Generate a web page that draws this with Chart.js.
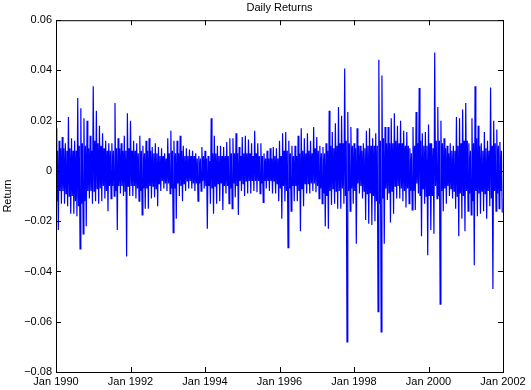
<!DOCTYPE html>
<html lang="en">
<head>
    <meta charset="UTF-8">
    <title>Daily Returns</title>
    <script src="https://cdn.jsdelivr.net/npm/chart.js"></script>
    <style>
        body {
            margin: 0;
            background: #fff;
        }
        .chart-box {
            width: 531px;
            height: 390px;
        }
    </style>
</head>
<body>
    <div class="chart-box">
        <canvas id="returnsChart"></canvas>
    </div>

    <script>
        // daily returns Jan 1990 .. Dec 2001, one row per year
        const startYear = 1990;
        // biggest up / down day of each month
        const monthHigh = [
            0.017, 0.012, 0.0135, 0.011, 0.0215, 0.013, 0.012, 0.029, 0.025, 0.021, 0.020, 0.014,
            0.0337, 0.024, 0.018, 0.015, 0.012, 0.011, 0.011, 0.027, 0.013, 0.011, 0.014, 0.023,
            0.020, 0.012, 0.011, 0.014, 0.010, 0.012, 0.013, 0.0095, 0.011, 0.0095, 0.009, 0.007,
            0.013, 0.016, 0.012, 0.012, 0.014, 0.010, 0.009, 0.0085, 0.008, 0.007, 0.006, 0.0095,
            0.008, 0.006, 0.021, 0.014, 0.010, 0.010, 0.0095, 0.0115, 0.013, 0.013, 0.015, 0.0095,
            0.0135, 0.014, 0.0125, 0.011, 0.016, 0.011, 0.011, 0.007, 0.008, 0.009, 0.0095, 0.009,
            0.012, 0.015, 0.0155, 0.012, 0.010, 0.010, 0.014, 0.017, 0.013, 0.015, 0.012, 0.0175,
            0.0135, 0.010, 0.0095, 0.011, 0.024, 0.0155, 0.019, 0.0255, 0.022, 0.0408, 0.0235, 0.0175,
            0.011, 0.017, 0.010, 0.011, 0.016, 0.017, 0.013, 0.015, 0.0443, 0.038, 0.0175, 0.0175,
            0.021, 0.023, 0.018, 0.020, 0.016, 0.0155, 0.009, 0.0175, 0.0235, 0.033, 0.015, 0.0155,
            0.0185, 0.011, 0.0471, 0.0255, 0.020, 0.013, 0.010, 0.011, 0.010, 0.0215, 0.021, 0.0245,
            0.027, 0.011, 0.021, 0.0337, 0.018, 0.011, 0.0155, 0.012, 0.0332, 0.020, 0.0165, 0.0115
        ];
        const monthLow = [
            -0.0235, -0.013, -0.013, -0.014, -0.017, -0.017, -0.018, -0.031, -0.025, -0.022, -0.011, -0.013,
            -0.012, -0.013, -0.012, -0.011, -0.016, -0.011, -0.010, -0.0235, -0.009, -0.010, -0.034, -0.010,
            -0.010, -0.011, -0.012, -0.0175, -0.015, -0.015, -0.011, -0.0105, -0.014, -0.008, -0.007, -0.008,
            -0.009, -0.0245, -0.019, -0.010, -0.012, -0.008, -0.007, -0.007, -0.008, -0.012, -0.008, -0.007,
            -0.023, -0.013, -0.017, -0.013, -0.012, -0.0155, -0.009, -0.013, -0.015, -0.0105, -0.0175, -0.008,
            -0.010, -0.009, -0.009, -0.008, -0.0085, -0.009, -0.0125, -0.007, -0.008, -0.009, -0.009, -0.012,
            -0.019, -0.012, -0.0305, -0.016, -0.012, -0.012, -0.024, -0.014, -0.009, -0.009, -0.008, -0.0085,
            -0.011, -0.013, -0.022, -0.023, -0.0135, -0.013, -0.015, -0.015, -0.013, -0.068, -0.016, -0.013,
            -0.029, -0.009, -0.011, -0.0195, -0.021, -0.0215, -0.020, -0.056, -0.064, -0.029, -0.0115, -0.0205,
            -0.017, -0.011, -0.011, -0.012, -0.0145, -0.013, -0.0155, -0.0155, -0.009, -0.026, -0.013, -0.0335,
            -0.0235, -0.025, -0.011, -0.053, -0.016, -0.013, -0.010, -0.011, -0.015, -0.026, -0.019, -0.024,
            -0.016, -0.0175, -0.0375, -0.018, -0.017, -0.016, -0.019, -0.014, -0.047, -0.016, -0.015, -0.0165
        ];
        // edges of the dense part of the band in each month
        const monthCoreHigh = [
            0.008, 0.009, 0.009, 0.008, 0.009, 0.008, 0.008, 0.010, 0.011, 0.010, 0.009, 0.008,
            0.012, 0.011, 0.010, 0.009, 0.008, 0.008, 0.008, 0.009, 0.009, 0.008, 0.008, 0.009,
            0.008, 0.008, 0.007, 0.008, 0.007, 0.008, 0.008, 0.007, 0.007, 0.006, 0.006, 0.005,
            0.007, 0.008, 0.007, 0.007, 0.008, 0.006, 0.006, 0.006, 0.006, 0.005, 0.005, 0.006,
            0.005, 0.004, 0.007, 0.007, 0.006, 0.006, 0.006, 0.006, 0.007, 0.007, 0.007, 0.006,
            0.007, 0.007, 0.007, 0.006, 0.007, 0.006, 0.006, 0.005, 0.005, 0.005, 0.006, 0.005,
            0.006, 0.008, 0.008, 0.007, 0.006, 0.006, 0.007, 0.008, 0.007, 0.008, 0.007, 0.009,
            0.008, 0.007, 0.007, 0.008, 0.010, 0.009, 0.010, 0.011, 0.011, 0.012, 0.011, 0.010,
            0.009, 0.010, 0.008, 0.009, 0.010, 0.010, 0.010, 0.010, 0.012, 0.013, 0.011, 0.011,
            0.011, 0.012, 0.011, 0.011, 0.010, 0.010, 0.007, 0.010, 0.011, 0.012, 0.010, 0.010,
            0.011, 0.009, 0.012, 0.012, 0.011, 0.009, 0.007, 0.008, 0.008, 0.010, 0.011, 0.012,
            0.012, 0.008, 0.011, 0.013, 0.010, 0.008, 0.009, 0.008, 0.010, 0.011, 0.010, 0.008
        ];
        const monthCoreLow = [
            -0.012, -0.008, -0.008, -0.009, -0.010, -0.010, -0.012, -0.014, -0.013, -0.012, -0.008, -0.008,
            -0.008, -0.007, -0.007, -0.006, -0.008, -0.006, -0.006, -0.008, -0.006, -0.006, -0.008, -0.006,
            -0.006, -0.006, -0.007, -0.008, -0.007, -0.007, -0.006, -0.006, -0.007, -0.005, -0.004, -0.005,
            -0.005, -0.007, -0.007, -0.005, -0.006, -0.005, -0.004, -0.004, -0.005, -0.005, -0.005, -0.004,
            -0.006, -0.006, -0.007, -0.006, -0.005, -0.005, -0.006, -0.006, -0.007, -0.005, -0.006, -0.004,
            -0.005, -0.004, -0.004, -0.004, -0.004, -0.004, -0.005, -0.004, -0.004, -0.004, -0.004, -0.005,
            -0.007, -0.006, -0.008, -0.007, -0.006, -0.006, -0.008, -0.007, -0.005, -0.005, -0.005, -0.005,
            -0.006, -0.007, -0.009, -0.010, -0.008, -0.007, -0.008, -0.008, -0.007, -0.010, -0.008, -0.007,
            -0.008, -0.005, -0.006, -0.008, -0.009, -0.009, -0.010, -0.012, -0.013, -0.011, -0.007, -0.009,
            -0.008, -0.006, -0.006, -0.007, -0.008, -0.007, -0.008, -0.008, -0.005, -0.010, -0.007, -0.010,
            -0.010, -0.010, -0.006, -0.010, -0.008, -0.007, -0.006, -0.007, -0.008, -0.010, -0.009, -0.010,
            -0.008, -0.009, -0.012, -0.008, -0.009, -0.008, -0.009, -0.008, -0.011, -0.008, -0.009, -0.008
        ];
        const xTicks = [1990, 1992, 1994, 1996, 1998, 2000, 2002];
        const yTicks = [-0.08, -0.06, -0.04, -0.02, 0, 0.02, 0.04, 0.06];

        // per month: high, core low, core high, low, a quarter of a month apart
        const points = [];
        monthHigh.forEach((hi, m) => {
            points.push({ x: startYear + m / 12, y: hi });
            points.push({ x: startYear + (m + 0.25) / 12, y: monthCoreLow[m] });
            points.push({ x: startYear + (m + 0.5) / 12, y: monthCoreHigh[m] });
            points.push({ x: startYear + (m + 0.75) / 12, y: monthLow[m] });
        });

        const fontBase = { family: "'Liberation Sans', Arial, sans-serif", size: 11 };

        // matlab style box with ticks pointing inwards on all four sides
        const boxTicks = {
            id: 'boxTicks',
            afterDraw(chart) {
                const { ctx, chartArea: a, scales } = chart;
                const len = 5;
                ctx.save();
                ctx.strokeStyle = '#000';
                ctx.lineWidth = 1;
                ctx.strokeRect(a.left + 0.5, a.top + 0.5, a.right - a.left, a.bottom - a.top);
                ctx.beginPath();
                xTicks.forEach(v => {
                    const px = Math.round(scales.x.getPixelForValue(v)) + 0.5;
                    ctx.moveTo(px, a.bottom); ctx.lineTo(px, a.bottom - len);
                    ctx.moveTo(px, a.top); ctx.lineTo(px, a.top + len);
                });
                yTicks.forEach(v => {
                    const py = Math.round(scales.y.getPixelForValue(v)) + 0.5;
                    ctx.moveTo(a.left, py); ctx.lineTo(a.left + len, py);
                    ctx.moveTo(a.right, py); ctx.lineTo(a.right - len, py);
                });
                ctx.stroke();
                ctx.restore();
            }
        };

        new Chart(document.getElementById('returnsChart'), {
            type: 'line',
            data: {
                datasets: [{
                    label: 'Return',
                    data: points,
                    borderColor: '#0000ff',
                    borderWidth: 1.2,
                    pointRadius: 0,
                    tension: 0
                }]
            },
            options: {
                responsive: true,
                maintainAspectRatio: false,
                animation: false,
                layout: { padding: { left: 0, right: 28, top: 0, bottom: 0 } },
                plugins: {
                    legend: { display: false },
                    tooltip: { enabled: false },
                    title: {
                        display: true,
                        fullSize: false,
                        text: 'Daily Returns',
                        color: '#000',
                        font: { ...fontBase, weight: 'normal' },
                        padding: { top: 1, bottom: 6 }
                    }
                },
                scales: {
                    x: {
                        type: 'linear',
                        min: 1990,
                        max: 2002,
                        afterBuildTicks: s => { s.ticks = xTicks.map(v => ({ value: v })); },
                        afterFit: s => { s.height = 18; },
                        grid: { display: false, drawTicks: false },
                        border: { display: false },
                        ticks: {
                            color: '#000',
                            font: fontBase,
                            padding: 3,
                            maxRotation: 0,
                            autoSkip: false,
                            callback: v => 'Jan ' + v
                        }
                    },
                    y: {
                        min: -0.08,
                        max: 0.06,
                        afterBuildTicks: s => { s.ticks = yTicks.map(v => ({ value: v })); },
                        afterFit: s => { s.width = 56; },
                        grid: { display: false, drawTicks: false },
                        border: { display: false },
                        title: {
                            display: true,
                            text: 'Return',
                            color: '#000',
                            font: fontBase,
                            padding: { top: 1, bottom: 0 }
                        },
                        ticks: {
                            color: '#000',
                            font: fontBase,
                            padding: 4,
                            callback: v => {
                                const r = Math.round(v * 100) / 100;
                                return r === 0 ? '0' : r.toFixed(2).replace('-', '\u2212');
                            }
                        }
                    }
                }
            },
            plugins: [boxTicks]
        });
    </script>
</body>
</html>
